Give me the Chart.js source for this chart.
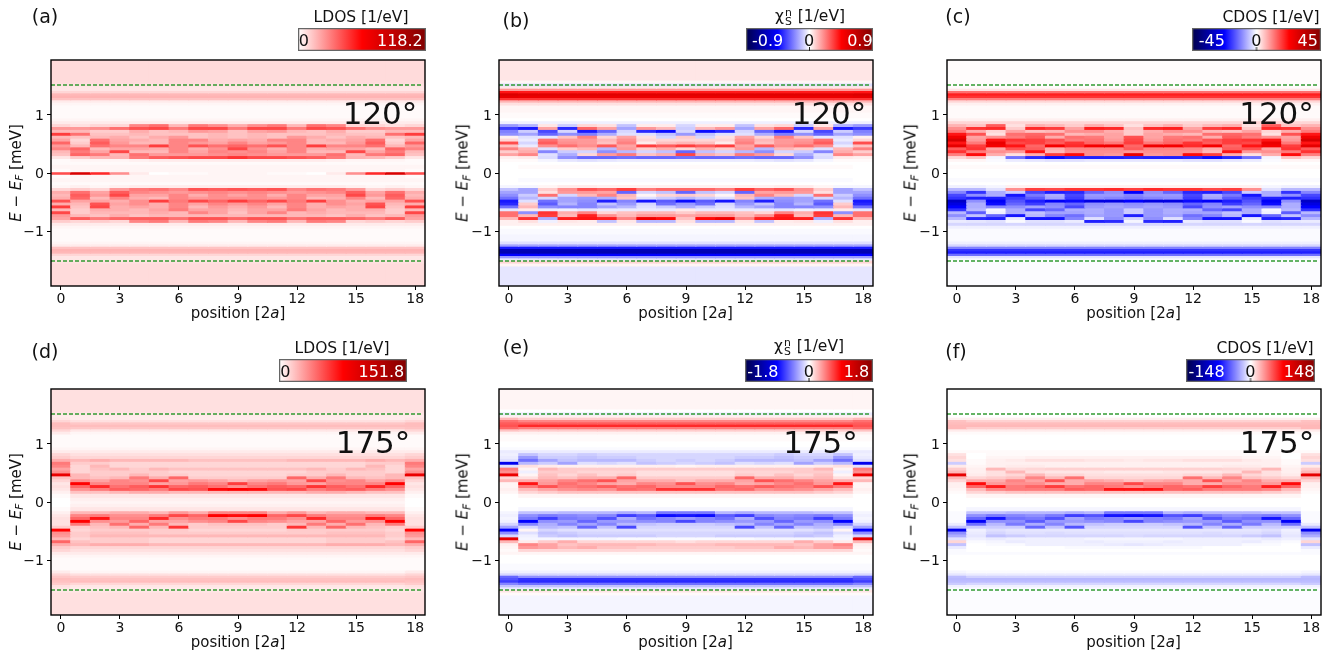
<!DOCTYPE html>
<html>
<head>
<meta charset="utf-8">
<title>LDOS, spin and charge maps</title>
<script src="https://cdn.jsdelivr.net/npm/chart.js@4"></script>
<style>
  body { margin: 0; background: #fff; font-family: "DejaVu Sans", sans-serif; color: #111; }
  #page { position: relative; width: 1344px; height: 654px; overflow: hidden; }
  canvas { position: absolute; }
  .txt { position: absolute; white-space: nowrap; transform: translate(-50%, -50%); line-height: 1; }
  .rot { transform: translate(-50%, -50%) rotate(-90deg); }
  .txt sub { font-size: 70%; vertical-align: -0.25em; line-height: 0; }
  .stack { display: inline-block; vertical-align: -0.36em; font-size: 70%; line-height: 0.8; text-align: center; margin: 0 1px 0 1px; }
  .stack span { display: block; }
</style>
</head>
<body>
<div id="page"></div>
<script>
// row edges of the maps, top to bottom [meV]
const energyEdges = [1.945, 1.6, 1.55, 1.5, 1.46, 1.42, 1.38, 1.34, 1.3, 1.26, 1.22, 1.17, 1.05, 0.95, 0.9,
  0.85, 0.8, 0.75, 0.7, 0.65, 0.6, 0.55, 0.5, 0.45, 0.4, 0.35, 0.3, 0.25, 0.2, 0.15,
  0.08, 0.022, -0.022, -0.08,
  -0.15, -0.2, -0.25, -0.3, -0.35, -0.4, -0.45, -0.5, -0.55, -0.6, -0.65, -0.7, -0.75, -0.8, -0.85,
  -0.9, -0.95, -1.05, -1.17, -1.22, -1.26, -1.3, -1.34, -1.38, -1.42, -1.46, -1.5, -1.55, -1.6, -1.945];
const positions = [0, 1, 2, 3, 4, 5, 6, 7, 8, 9, 10, 11, 12, 13, 14, 15, 16, 17, 18];
const positionTicks = [0, 3, 6, 9, 12, 15, 18];
const energyTicks = [-1, 0, 1];
const gapEdges = [1.515, -1.515];

// All map values are percent of the colour bar end (50 = pure red, -50 = pure blue).
// Top/Bottom/Gap: [first column, other columns] per row. Upper/Lower: one list per position 0..9,
// rows run from high to low energy. The maps are mirror symmetric about position 9.

// (a) LDOS 120
const ldos120Top = [[7,7],[7,7],[6,6],[5,5],[5,5],[8,8],[14,14],[15,15],[12,12],[4,4],[2,2],[1,1],[1,1],[2,2],[4,4]];
const ldos120Upper = [
  [8,20,14,38,14,18,30,20,24,14,12,5,1,1],
  [6,20,14,28,12,8,10,14,30,26,30,10,2,1],
  [8,22,10,12,14,28,32,28,14,18,26,14,2,1],
  [8,28,10,12,16,18,20,24,18,36,14,15,2,1],
  [24,34,16,14,12,16,14,24,18,14,28,26,3,1],
  [28,36,12,12,16,14,14,38,16,14,20,32,4,1],
  [14,26,14,12,20,24,24,24,24,24,20,34,4,1],
  [26,36,20,12,12,24,20,34,16,18,20,36,4,1],
  [22,36,18,14,14,16,18,28,22,24,22,36,4,1],
  [16,26,12,12,12,18,24,30,36,22,24,40,4,1]];
const ldos120Gap = [[2,2],[1,2],[35,65,42,22,4,0,1,1,2,2],[1,2],[2,2]];
const ldos120Lower = [
  [1,2,8,16,14,16,34,16,38,14,36,20,18,10],
  [1,3,10,28,32,30,18,14,12,10,10,14,32,8],
  [1,2,8,18,20,14,18,34,36,16,14,12,26,10],
  [1,3,20,32,36,24,16,18,16,16,14,16,30,8],
  [1,4,26,24,18,16,22,22,18,14,14,12,32,24],
  [1,4,28,22,18,14,38,16,16,18,16,14,32,26],
  [1,4,24,20,24,24,26,24,24,26,14,14,28,14],
  [1,4,34,22,16,20,36,18,14,18,24,14,34,26],
  [1,4,32,24,22,22,30,24,20,18,18,14,34,24],
  [1,4,34,22,18,22,38,20,16,14,12,14,30,14]];
const ldos120Bottom = [[4,4],[2,2],[1,1],[1,1],[2,2],[4,4],[12,12],[15,15],[14,14],[8,8],[5,5],[5,5],[6,6],[7,7],[7,7]];

// (b) spin 120
const spin120Top = [[5,5],[2,2],[-6,-6],[5,5],[20,20],[46,45],[64,62],[60,58],[40,40],[15,15],[6,6],[2,2],[1,1],[0,0],[-3,-3]];
const spin120Upper = [
  [-20,-38,-25,-22,3,8,35,12,25,10,18,3,1,0],
  [-15,-45,-10,-18,-6,-4,-8,-4,14,16,24,4,1,0],
  [5,18,-36,-30,-5,28,32,22,-6,-24,-6,-7,-2,0],
  [-10,-42,-8,-22,12,20,22,28,10,-10,-16,-22,-5,0],
  [8,30,-45,-25,25,20,20,22,14,-8,8,-30,-6,0],
  [6,18,-30,-16,8,14,12,32,-14,-22,20,-30,-5,0],
  [-12,-18,-8,-6,18,22,25,18,20,-14,26,-28,-4,0],
  [4,20,-42,-6,6,8,4,38,10,-8,12,-30,-4,0],
  [4,14,-48,-12,-8,8,12,32,16,-12,16,-30,-4,0],
  [-8,-10,-8,-20,10,8,14,38,8,-30,36,-28,-4,0]];
const spin120Gap = [[0,1],[0,0],[0,0],[0,0],[0,-1]];
const spin120Lower = [
  [0,-2,-12,-18,-22,-28,-45,-42,-28,-5,28,28,14,3],
  [0,-2,-18,-18,-10,-14,-6,10,14,4,-22,14,40,6],
  [0,2,10,6,28,-8,-28,-32,-22,-4,40,38,-16,-3],
  [0,4,22,20,-8,-18,-18,-15,-24,-3,16,14,44,5],
  [0,4,34,20,14,-20,-22,-24,-24,-5,24,44,46,4],
  [0,3,30,18,24,-16,-44,-12,-18,-4,8,22,44,-12],
  [0,3,38,-30,14,12,-24,-20,-14,-4,12,14,24,5],
  [0,3,26,-8,2,-6,-46,-8,-6,-4,14,20,55,-14],
  [0,3,30,-12,8,-10,-32,-28,-10,-4,14,20,48,-14],
  [0,3,30,-30,10,-14,-48,-20,-16,4,10,18,12,6]];
const spin120Bottom = [[3,3],[0,0],[-1,-1],[-2,-2],[-6,-6],[-18,-18],[-45,-45],[-70,-70],[-72,-72],[-50,-50],[-20,-20],[-5,-5],[8,8],[2,2],[-5,-5]];

// (c) charge 120
const charge120Top = [[0.5,0.5],[0.5,0.5],[0.5,0.5],[1,1],[5,5],[28,28],[44,44],[40,40],[25,25],[8,8],[3,3],[1,1],[1,1],[3,3],[8,8]];
const charge120Upper = [
  [15,22,26,46,56,66,46,60,32,40,25,8,2,0],
  [12,40,16,34,18,20,26,38,40,26,48,12,2,0],
  [32,42,8,6,22,46,58,54,18,22,16,-2,-1,0],
  [6,10,18,28,26,40,36,46,34,20,6,-28,-4,0],
  [16,42,12,30,32,38,38,30,32,46,16,-42,-5,0],
  [14,38,14,28,16,34,32,54,16,14,38,-48,-6,0],
  [10,18,22,14,28,26,40,42,24,22,48,-42,-6,0],
  [16,44,22,16,26,28,30,54,24,22,22,-44,-5,0],
  [12,42,16,18,18,20,26,56,24,22,20,-44,-5,0],
  [6,12,10,10,34,36,38,30,32,20,58,-42,-5,0]];
const charge120Gap = [[1,1],[0,0],[0,0],[0,0],[-1,-1]];
const charge120Lower = [
  [0,-3,-14,-24,-36,-40,-66,-58,-50,-40,-14,-22,-14,-4],
  [0,-3,-14,-40,-22,-44,-22,-16,-16,-14,-32,-12,-42,-5],
  [0,-2,-6,-16,-16,-44,-52,-48,-24,-2,-3,-30,-44,-6],
  [0,3,22,-10,-46,-38,-34,-30,-22,-16,-16,-46,-4,-1],
  [0,3,38,-36,-26,-32,-44,-38,-18,-36,-12,-14,-46,-6],
  [0,3,36,-44,-16,-18,-52,-24,-22,-30,-18,-24,-46,-6],
  [0,3,40,-42,-36,-38,-48,-30,-36,-16,-18,-28,-24,-4],
  [0,3,40,-30,-20,-22,-58,-22,-20,-16,-16,-18,-6,-44],
  [0,3,42,-22,-20,-24,-58,-20,-18,-20,-20,-20,-22,-42],
  [0,3,38,-50,-24,-26,-50,-22,-20,-10,-10,-44,-8,-2]];
const charge120Bottom = [[-8,-8],[-3,-3],[-1,-1],[-1,-1],[-3,-3],[-8,-8],[-25,-25],[-40,-40],[-44,-44],[-28,-28],[-5,-5],[-1,-1],[-0.5,-0.5],[-0.5,-0.5],[-0.5,-0.5]];

// (d) LDOS 175
const ldos175Top = [[6,6],[6,6],[5,5],[4,4],[5,4],[8,6],[13,11],[13,13],[12,11],[8,5],[4,2],[1,1],[1,1],[2,2],[4,4]];
const ldos175Upper = [
  [8,10,16,26,24,18,22,58,12,8,5,6,5,3],
  [6,8,14,10,8,8,8,14,14,22,50,30,22,12],
  [6,8,16,10,14,12,10,10,12,18,24,42,26,12],
  [6,8,14,8,8,14,10,10,14,24,24,28,32,14],
  [6,8,14,8,8,10,10,14,26,22,24,32,30,16],
  [6,8,14,8,8,14,10,10,16,36,18,40,26,16],
  [6,8,14,8,8,12,8,10,30,18,20,30,36,14],
  [6,8,12,8,8,12,8,8,10,20,26,32,34,14],
  [6,8,12,8,8,12,8,8,10,18,24,28,48,14],
  [6,8,12,8,8,12,8,8,10,14,38,22,50,14]];
const ldos175Gap = [[1,5],[0,3],[0,2],[0,3],[1,5]];
const ldos175Lower = [
  [3,5,6,6,6,10,50,22,20,14,30,16,10,8],
  [14,24,30,50,26,10,8,10,10,8,12,14,8,6],
  [14,26,46,22,14,12,10,12,14,10,10,16,8,6],
  [16,22,24,20,28,14,10,12,14,10,10,16,8,6],
  [16,22,24,30,16,30,10,12,14,10,10,16,8,6],
  [14,26,42,18,26,14,10,10,14,8,8,14,8,6],
  [20,36,22,18,14,40,10,10,14,8,8,14,8,6],
  [16,30,26,22,10,10,8,10,14,8,8,14,8,6],
  [24,50,26,24,12,10,8,10,14,8,8,14,8,6],
  [24,48,22,36,12,10,8,10,14,8,8,14,8,6]];
const ldos175Bottom = [[4,4],[2,2],[1,1],[1,1],[4,2],[8,6],[11,10],[13,12],[12,13],[10,8],[6,5],[5,4],[5,5],[6,6],[6,6]];

// (e) spin 175
const spin175Top = [[2,2],[0,0],[-4,-4],[3,3],[14,10],[28,24],[32,32],[34,42],[30,26],[12,10],[3,3],[1,1],[0,0],[-1,-1],[-4,-4]];
const spin175Upper = [
  [-3,-4,-6,-55,-6,26,22,58,8,14,2,2,3,2],
  [-12,-20,-28,-14,6,2,-3,2,6,16,46,26,14,8],
  [-8,-10,-18,-10,4,14,10,12,14,18,20,34,18,10],
  [-8,-10,-12,-18,3,10,10,8,12,24,28,26,22,12],
  [-10,-12,-14,-6,3,10,8,12,16,28,24,28,24,12],
  [-8,-10,-14,-8,3,10,8,8,16,34,18,32,22,12],
  [-8,-10,-14,-6,3,10,8,10,30,18,16,28,30,12],
  [-8,-8,-10,-12,3,10,6,6,10,16,24,30,28,12],
  [-8,-8,-8,-10,3,10,6,6,10,16,22,24,40,12],
  [-8,-8,-10,-8,2,10,6,6,10,12,34,24,40,12]];
const spin175Gap = [[0,2],[0,0],[0,0],[0,0],[0,-2]];
const spin175Lower = [
  [-2,-3,-2,-3,-8,-18,-50,-22,-8,60,14,3,2,1],
  [-12,-22,-26,-50,-24,-8,2,-6,-3,-2,4,24,20,8],
  [-12,-26,-38,-22,-16,-14,-8,-12,-10,-2,10,18,18,8],
  [-14,-24,-26,-20,-24,-12,-6,-10,-12,-2,16,12,14,8],
  [-14,-22,-24,-30,-18,-30,-6,-8,-10,-2,8,14,16,8],
  [-14,-24,-34,-20,-24,-12,-6,-8,-10,-2,8,14,12,8],
  [-16,-38,-16,-20,-14,-36,-6,-8,-10,-1,8,14,12,8],
  [-14,-32,-28,-22,-12,-8,-6,-8,-10,-1,8,14,10,8],
  [-26,-48,-24,-24,-10,-8,-6,-8,-8,-1,8,12,10,8],
  [-26,-46,-20,-36,-10,-8,-6,-8,-8,-1,6,12,10,8]];
const spin175Bottom = [[2,2],[0,0],[0,0],[-1,-1],[-3,-3],[-8,-8],[-30,-22],[-34,-40],[-38,-42],[-24,-28],[-12,-12],[-4,-4],[5,5],[1,1],[-2,-2]];

// (f) charge 175
const charge175Top = [[0,0],[0,0],[0,0],[0,0],[3,3],[12,9],[13,13],[14,14],[14,10],[4,4],[1,1],[0,0],[0,0],[0,0],[1,1]];
const charge175Upper = [
  [6,8,6,-10,4,10,14,60,14,8,3,3,2,1],
  [0,0,1,1,2,3,3,4,8,16,48,30,14,8],
  [1,2,3,3,3,14,6,6,10,16,20,44,24,10],
  [1,2,4,3,4,7,14,8,12,24,22,26,26,12],
  [1,3,6,3,4,8,6,14,24,18,22,30,26,12],
  [1,3,6,3,3,9,5,8,14,34,16,38,26,12],
  [1,3,6,3,3,9,5,8,28,16,16,28,32,12],
  [1,3,5,3,3,9,5,6,8,18,24,30,30,12],
  [1,3,5,3,3,9,4,6,8,16,24,26,46,12],
  [1,3,4,3,3,9,4,6,8,12,36,22,46,12]];
const charge175Gap = [[0,2],[0,0],[0,0],[0,0],[0,-2]];
const charge175Lower = [
  [-1,-1,-1,-1,-4,-12,-55,-22,-16,-6,8,-12,-4,-1],
  [-12,-22,-30,-52,-28,-10,-3,-4,-5,-3,-1,0,0,0],
  [-12,-26,-46,-22,-14,-10,-6,-8,-12,-4,-2,-1,0,0],
  [-14,-24,-28,-22,-26,-10,-5,-6,-10,-3,-4,-1,0,0],
  [-14,-22,-26,-32,-16,-30,-5,-6,-8,-3,-3,-3,0,0],
  [-14,-26,-34,-20,-24,-12,-5,-7,-8,-3,-3,-3,0,0],
  [-16,-38,-18,-20,-14,-34,-5,-6,-8,-3,-3,-3,-1,0],
  [-14,-34,-26,-22,-12,-8,-5,-6,-8,-2,-4,-3,-1,0],
  [-26,-46,-24,-24,-10,-8,-5,-6,-8,-2,-3,-4,-1,0],
  [-26,-48,-20,-36,-10,-8,-5,-6,-7,-2,-3,-5,-1,0]];
const charge175Bottom = [[-1,-1],[0,0],[0,0],[0,0],[-2,-1],[-5,-4],[-13,-9],[-14,-14],[-13,-13],[-10,-8],[-3,-3],[-1,-1],[-0.5,-0.5],[-0.5,-0.5],[-0.5,-0.5]];

const chiTitle = 'χ<span class="stack"><span>n</span><span>S</span></span> [1/eV]';

// where each panel sits on the page
const panels = [
  {tag:'(a)', tagX:45, tagY:16, angle:'120°', angleX:380, angleY:113, left:51, top:60, ylabelX:16,
   title:'LDOS [1/eV]', titleX:361, titleY:18, bar:[297.5,28,128,23], kind:'pos', labels:['0','118.2'], at:[0.05,0.80],
   grid:[ldos120Top,ldos120Upper,ldos120Gap,ldos120Lower,ldos120Bottom]},
  {tag:'(b)', tagX:516, tagY:20, angle:'120°', angleX:829, angleY:113, left:498.5, top:60, ylabelX:463,
   title:chiTitle, titleX:810, titleY:18, bar:[746,28,127,23], kind:'both', labels:['-0.9','0','0.9'], at:[0.17,0.497,0.897],
   grid:[spin120Top,spin120Upper,spin120Gap,spin120Lower,spin120Bottom]},
  {tag:'(c)', tagX:958, tagY:16, angle:'120°', angleX:1276.5, angleY:113, left:946.5, top:60, ylabelX:911,
   title:'CDOS [1/eV]', titleX:1271, titleY:18, bar:[1192,28,128.5,23], kind:'both', labels:['-45','0','45'], at:[0.154,0.5,0.90],
   grid:[charge120Top,charge120Upper,charge120Gap,charge120Lower,charge120Bottom]},
  {tag:'(d)', tagX:45, tagY:351, angle:'175°', angleX:373, angleY:442, left:51, top:389, ylabelX:16,
   title:'LDOS [1/eV]', titleX:342, titleY:349, bar:[279,359,128,23], kind:'pos', labels:['0','151.8'], at:[0.05,0.80],
   grid:[ldos175Top,ldos175Upper,ldos175Gap,ldos175Lower,ldos175Bottom]},
  {tag:'(e)', tagX:516, tagY:347, angle:'175°', angleX:820.5, angleY:442, left:498.5, top:389, ylabelX:463,
   title:chiTitle, titleX:809, titleY:348, bar:[745,359,127.5,23], kind:'both', labels:['-1.8','0','1.8'], at:[0.14,0.5,0.875],
   grid:[spin175Top,spin175Upper,spin175Gap,spin175Lower,spin175Bottom]},
  {tag:'(f)', tagX:956, tagY:351, angle:'175°', angleX:1277, angleY:442, left:946.5, top:389, ylabelX:911,
   title:'CDOS [1/eV]', titleX:1265, titleY:349, bar:[1186,359,128.5,23], kind:'both', labels:['-148','0','148'], at:[0.16,0.5,0.88],
   grid:[charge175Top,charge175Upper,charge175Gap,charge175Lower,charge175Bottom]}
];

const axW = 374, axH = 226;
const page = document.getElementById('page');

// seismic colour map, p from -100 to 100
function seismic(p) {
  let r, g, b;
  if (p >= 50) { r = 255 - 127 * Math.min(1, (p - 50) / 50); g = 0; b = 0; }
  else if (p >= 0) { r = 255; g = b = 255 * (1 - p / 50); }
  else if (p >= -50) { b = 255; r = g = 255 * (1 + p / 50); }
  else { r = g = 0; b = 255 - 179 * Math.min(1, (-p - 50) / 50); }
  return `rgb(${Math.round(r)},${Math.round(g)},${Math.round(b)})`;
}

function addText(x, y, html, size, cls, color) {
  let d = document.createElement('div');
  d.className = 'txt' + (cls ? ' ' + cls : '');
  d.style.left = x + 'px';
  d.style.top = y + 'px';
  d.style.fontSize = size + 'px';
  if (color) d.style.color = color;
  d.innerHTML = html;
  page.appendChild(d);
}

function addCanvas(x, y, w, h) {
  let c = document.createElement('canvas');
  c.width = w;
  c.height = h;
  c.style.left = x + 'px';
  c.style.top = y + 'px';
  c.style.width = w + 'px';
  c.style.height = h + 'px';
  page.appendChild(c);
  return c;
}

// value of one position in a short row: two entries = [first column, rest], ten = half of the map
function cell(row, pos) {
  let m = pos > 9 ? 18 - pos : pos;
  if (row.length === 2) return m === 0 ? row[0] : row[1];
  return row[m];
}

// one row per energy bin, one value per position
function buildRows(grid) {
  let [top, upper, gap, lower, bottom] = grid;
  let rows = [];
  top.forEach(r => rows.push(positions.map(p => cell(r, p))));
  upper[0].forEach((_, i) => rows.push(positions.map(p => upper[p > 9 ? 18 - p : p][i])));
  gap.forEach(r => rows.push(positions.map(p => cell(r, p))));
  lower[0].forEach((_, i) => rows.push(positions.map(p => lower[p > 9 ? 18 - p : p][i])));
  bottom.forEach(r => rows.push(positions.map(p => cell(r, p))));
  return rows;
}

const framePlugin = {
  id: 'frame',
  afterDraw(chart) {
    const a = chart.chartArea, ctx = chart.ctx;
    ctx.save();
    ctx.strokeStyle = '#000';
    ctx.lineWidth = 1.4;
    ctx.strokeRect(a.left, a.top, a.right - a.left, a.bottom - a.top);
    ctx.restore();
  }
};

function drawMap(p) {
  const padL = 42, padT = 3, padR = 3, padB = 30;
  const canvas = addCanvas(p.left - padL, p.top - padT, padL + axW + padR, padT + axH + padB);
  const rows = buildRows(p.grid);

  let datasets = rows.map((vals, r) => ({
    type: 'bar',
    order: 2,
    data: positions.map(x => ({x: x, y: [energyEdges[r + 1], energyEdges[r]]})),
    backgroundColor: vals.map(seismic),
    borderWidth: 0,
    inflateAmount: 0.5,
    barPercentage: 1,
    categoryPercentage: 1,
    grouped: false
  }));
  gapEdges.forEach(e => datasets.push({
    type: 'line',
    order: 1,
    data: [{x: -0.5, y: e}, {x: 18.35, y: e}],
    borderColor: 'rgba(40,150,40,0.95)',
    borderWidth: 1.3,
    borderDash: [4, 2],
    pointRadius: 0,
    fill: false
  }));

  new Chart(canvas, {
    type: 'bar',
    data: {datasets: datasets},
    plugins: [framePlugin],
    options: {
      responsive: false,
      animation: false,
      events: [],
      layout: {autoPadding: false, padding: {top: padT, right: padR}},
      plugins: {legend: {display: false}, tooltip: {enabled: false}},
      scales: {
        x: {
          type: 'linear', offset: false, min: -0.5, max: 18.5,
          grid: {offset: false, drawOnChartArea: false, tickLength: 4, color: '#000'},
          border: {display: false},
          afterFit: s => { s.height = padB; s.paddingLeft = 0; s.paddingRight = 0; },
          afterBuildTicks: s => { s.ticks = positionTicks.map(v => ({value: v})); },
          ticks: {color: '#111', font: {family: 'DejaVu Sans', size: 14}, padding: 1, maxRotation: 0, autoSkip: false,
            callback: v => String(v)}
        },
        y: {
          type: 'linear', min: -1.945, max: 1.945,
          grid: {drawOnChartArea: false, tickLength: 4, color: '#000'},
          border: {display: false},
          afterFit: s => { s.width = padL; s.paddingTop = 0; s.paddingBottom = 0; },
          afterBuildTicks: s => { s.ticks = energyTicks.map(v => ({value: v})); },
          ticks: {color: '#111', font: {family: 'DejaVu Sans', size: 14}, padding: 3, labelOffset: 1,
            callback: v => (v < 0 ? '\u2212' + Math.abs(v) : String(v))}
        }
      }
    }
  });

  addText(p.left + axW / 2, p.top + axH + 26.7, 'position [2<i>a</i>]', 15);
  addText(p.ylabelX, p.top + axH / 2, '<i>E</i> − <i>E<sub>F</sub></i> [meV]', 15, 'rot');
  addText(p.tagX, p.tagY, p.tag, 19);
  addText(p.angleX, p.angleY, p.angle, 31);
}

function drawBar(p) {
  const [x, y, w, h] = p.bar;
  const canvas = addCanvas(x, y, w, h);
  const grad = canvas.getContext('2d').createLinearGradient(0, 0, w, 0);
  if (p.kind === 'both') {
    [-100, -50, 0, 50, 100].forEach((v, i) => grad.addColorStop(i / 4, seismic(v)));
  } else {
    [0, 50, 100].forEach((v, i) => grad.addColorStop(i / 2, seismic(v)));
  }
  const edge = {
    id: 'edge',
    afterDatasetsDraw(chart) {
      const ctx = chart.ctx, a = chart.chartArea;
      ctx.save();
      ctx.strokeStyle = '#666';
      ctx.lineWidth = 1.5;
      ctx.strokeRect(a.left + 0.5, a.top + 0.5, a.right - a.left - 1, a.bottom - a.top - 1);
      if (p.kind === 'both') {
        let zx = chart.scales.x.getPixelForValue(0.5);
        ctx.strokeStyle = '#222';
        ctx.lineWidth = 1;
        ctx.beginPath();
        ctx.moveTo(zx, a.bottom);
        ctx.lineTo(zx, a.bottom - 4);
        ctx.stroke();
      }
      ctx.restore();
    }
  };
  new Chart(canvas, {
    type: 'bar',
    data: {labels: [''], datasets: [{data: [[0, 1]], backgroundColor: grad, borderWidth: 0, barPercentage: 1, categoryPercentage: 1}]},
    plugins: [edge],
    options: {
      indexAxis: 'y',
      responsive: false,
      animation: false,
      events: [],
      layout: {autoPadding: false},
      plugins: {legend: {display: false}, tooltip: {enabled: false}},
      scales: {
        y: {display: false},
        x: {type: 'linear', min: 0, max: 1, offset: false, display: false}
      }
    }
  });
  addText(p.titleX, p.titleY, p.title, 15.5);
  p.labels.forEach((lab, i) => {
    addText(x + w * p.at[i], y + h / 2 + 1.5, lab, 16, '', lab === '0' ? '#111' : '#fff');
  });
}

panels.forEach(p => {
  drawMap(p);
  drawBar(p);
});
</script>
</body>
</html>
